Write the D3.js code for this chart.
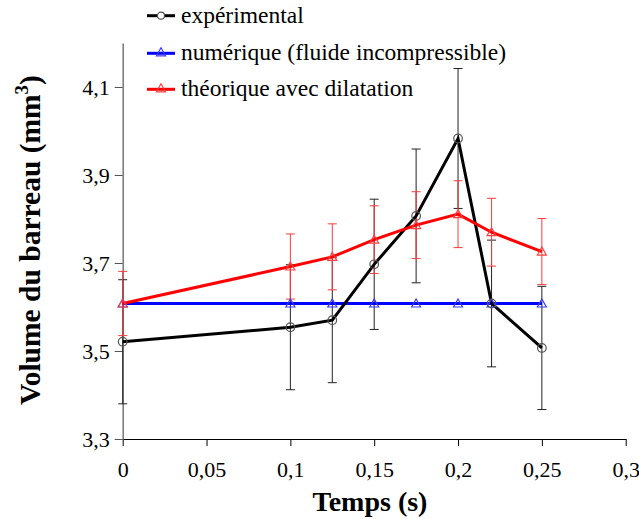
<!DOCTYPE html>
<html><head><meta charset="utf-8">
<script src="https://cdn.jsdelivr.net/npm/d3@7"></script>
<style>
body{margin:0;background:#fff;}
svg{display:block;}
</style></head>
<body>
<svg id="chart" width="639" height="519" font-family="Liberation Serif" style="font-family:'Liberation Serif'"></svg>
<script>
// ---- data ----
const times = [0, 0.1, 0.125, 0.15, 0.175, 0.2, 0.22, 0.25];
const experimental = [3.521, 3.554, 3.570, 3.697, 3.807, 3.983, 3.608, 3.507];
const experimentalErr = [0.141, 0.142, 0.142, 0.148, 0.152, 0.159, 0.144, 0.140];
const numerique = [3.608, 3.608, 3.608, 3.608, 3.608, 3.608, 3.608, 3.608];
const theorique = [3.608, 3.692, 3.714, 3.753, 3.786, 3.811, 3.770, 3.726];
const theoriqueErr = [0.073, 0.074, 0.075, 0.077, 0.076, 0.076, 0.077, 0.075];
const xTicks = [0, 0.05, 0.1, 0.15, 0.2, 0.25, 0.3];
const yTicks = [3.3, 3.5, 3.7, 3.9, 4.1];
const legendLabels = ["expérimental", "numérique (fluide incompressible)", "théorique avec dilatation"];

const FONT = "Liberation Serif";
const svg = d3.select("#chart");
const x = d3.scaleLinear().domain([0, 0.3]).range([122.7, 625.7]);
const y = d3.scaleLinear().domain([3.3, 4.2]).range([439, 43]);
const fmt = d => String(+d.toFixed(2)).replace(".", ",");

function serif(sel, size, bold) {
  sel.attr("font-family", FONT).style("font-family", `'${FONT}'`)
     .attr("font-size", size).style("font-size", size + "px");
  if (bold) sel.attr("font-weight", "bold").style("font-weight", "bold");
  return sel;
}

// axes
const gx = svg.append("g").attr("transform", `translate(0,${y(3.3)})`)
  .call(d3.axisBottom(x).tickValues(xTicks).tickSize(7).tickSizeOuter(0).tickFormat(fmt));
serif(gx, 22);
gx.select(".domain").attr("stroke", "#000");
gx.selectAll(".tick line").attr("stroke", "#000");
serif(gx.selectAll(".tick text"), 22).attr("fill", "#000").attr("dy", null).attr("y", 38);

const gy = svg.append("g").attr("transform", `translate(${x(0)},0)`)
  .call(d3.axisLeft(y).tickValues(yTicks).tickSize(8).tickSizeOuter(0).tickFormat(fmt));
serif(gy, 22);
gy.select(".domain").attr("stroke", "#777").attr("stroke-width", 1.5);
gy.selectAll(".tick line").attr("stroke", "#555");
serif(gy.selectAll(".tick text"), 22).attr("fill", "#000").attr("x", -13);

// axis titles
serif(svg.append("text"), 28, true).attr("x", 370).attr("y", 511).attr("text-anchor", "middle").text("Temps (s)");
const yt = serif(svg.append("text"), 29.5, true).attr("transform", "translate(40,240) rotate(-90)")
  .attr("text-anchor", "middle");
yt.append("tspan").text("Volume du barreau (mm");
serif(yt.append("tspan"), 19, true).attr("dy", -12).text("3");
yt.append("tspan").attr("dy", 12).text(")");

// series helpers
const pts = vals => times.map((t, i) => [t, vals[i]]);
const line = d3.line().x(d => x(d[0])).y(d => y(d[1]));

function errorBars(vals, errs, color) {
  const g = svg.append("g").attr("stroke", color).attr("stroke-width", 1).attr("fill", "none");
  times.forEach((t, i) => {
    const cx = x(t), y1 = y(vals[i] + errs[i]), y2 = y(vals[i] - errs[i]);
    g.append("line").attr("x1", cx).attr("x2", cx).attr("y1", y1).attr("y2", y2);
    g.append("line").attr("x1", cx - 4.5).attr("x2", cx + 4.5).attr("y1", y1).attr("y2", y1);
    g.append("line").attr("x1", cx - 4.5).attr("x2", cx + 4.5).attr("y1", y2).attr("y2", y2);
  });
}
const tri = (cx, cy) => `M${cx},${cy - 4.5}L${cx + 4.5},${cy + 3.5}L${cx - 4.5},${cy + 3.5}Z`;

errorBars(experimental, experimentalErr, "#222");
errorBars(theorique, theoriqueErr, "#ff3a3a");

svg.append("path").datum(pts(numerique)).attr("d", line)
  .attr("fill", "none").attr("stroke", "#0000ff").attr("stroke-width", 3);
svg.append("path").datum(pts(experimental)).attr("d", line)
  .attr("fill", "none").attr("stroke", "#000").attr("stroke-width", 3);
svg.append("path").datum(pts(theorique)).attr("d", line)
  .attr("fill", "none").attr("stroke", "#ff0000").attr("stroke-width", 3);

svg.append("g").selectAll("path").data(pts(numerique)).join("path")
  .attr("d", d => tri(x(d[0]), y(d[1]))).attr("fill", "none").attr("stroke", "#3a3aff").attr("stroke-width", 1.2);
svg.append("g").selectAll("circle").data(pts(experimental)).join("circle")
  .attr("cx", d => x(d[0])).attr("cy", d => y(d[1])).attr("r", 4.3)
  .attr("fill", "none").attr("stroke", "#555").attr("stroke-width", 1.2);
svg.append("g").selectAll("path").data(pts(theorique)).join("path")
  .attr("d", d => tri(x(d[0]), y(d[1]))).attr("fill", "none").attr("stroke", "#ff4040").attr("stroke-width", 1.2);

// legend
const legColors = ["#000", "#0000ff", "#ff0000"];
const legMarkColors = ["#555", "#3a3aff", "#ff4040"];
const legY = [15.7, 53.3, 89.3];
legendLabels.forEach((lab, i) => {
  svg.append("line").attr("x1", 147).attr("x2", 175).attr("y1", legY[i]).attr("y2", legY[i])
    .attr("stroke", legColors[i]).attr("stroke-width", 3);
  if (i === 0) svg.append("circle").attr("cx", 161).attr("cy", legY[i]).attr("r", 3.5)
    .attr("fill", "#fff").attr("stroke", legMarkColors[i]).attr("stroke-width", 1.2);
  else svg.append("path").attr("d", tri(161, legY[i] - 1)).attr("fill", "none")
    .attr("stroke", legMarkColors[i]).attr("stroke-width", 1.2);
  serif(svg.append("text"), 23.5).attr("x", 181).attr("y", legY[i] + 7).attr("fill", "#000").text(lab);
});
</script>
</body></html>
